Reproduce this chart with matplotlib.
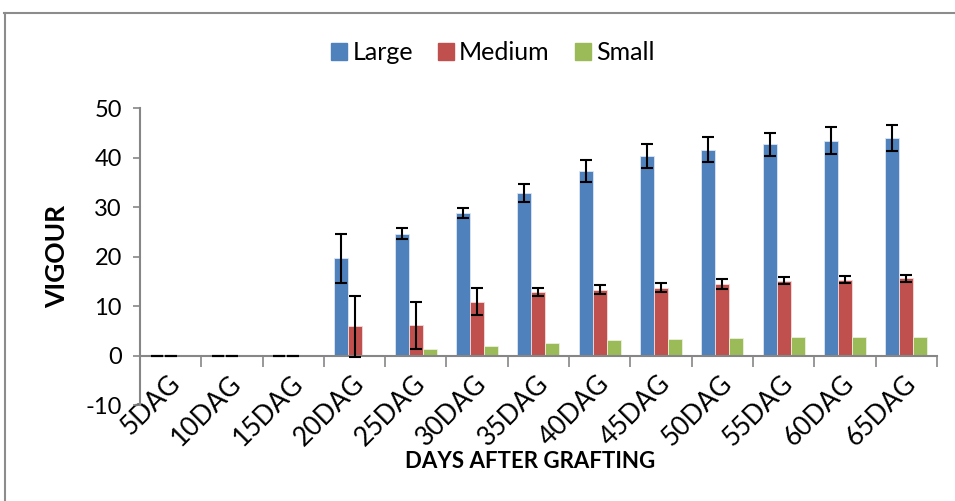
import matplotlib
matplotlib.use("Agg")
import matplotlib.pyplot as plt
import matplotlib.transforms as mtransforms
import numpy as np
from matplotlib.lines import Line2D
from matplotlib.patches import Patch

plt.rcParams["font.family"] = ["Lato", "DejaVu Sans"]
plt.rcParams["axes.unicode_minus"] = False

DAYS = ["5DAG", "10DAG", "15DAG", "20DAG", "25DAG", "30DAG", "35DAG",
        "40DAG", "45DAG", "50DAG", "55DAG", "60DAG", "65DAG"]
LARGE = [0, 0, 0, 19.6, 24.6, 28.8, 32.8, 37.3, 40.3, 41.6, 42.7, 43.4, 43.9]
LARGE_ERR = [0, 0, 0, 5.0, 1.1, 1.0, 1.85, 2.15, 2.5, 2.5, 2.3, 2.7, 2.6]
MEDIUM = [0, 0, 0, 5.9, 6.1, 10.9, 12.8, 13.3, 13.7, 14.4, 15.1, 15.3, 15.6]
MEDIUM_ERR = [0, 0, 0, 6.2, 4.8, 2.7, 0.8, 0.9, 0.9, 1.05, 0.75, 0.75, 0.65]
SMALL = [0, 0, 0, 0, 1.3, 1.9, 2.5, 3.2, 3.4, 3.5, 3.7, 3.8, 3.8]

C_LARGE = "#4F81BD"
C_MED = "#C0504D"
C_SMALL = "#9BBB59"
AX_GRAY = "#868686"

fig = plt.figure(figsize=(9.55, 5.01), dpi=100)
ax = fig.add_axes([0.1466, 0.1916, 0.8344, 0.5928])

x = np.arange(len(DAYS))
w = 0.228
ax.bar(x - w, LARGE, w, color=C_LARGE, edgecolor="#DCE6F2", lw=0.6, zorder=2)
ax.bar(x, MEDIUM, w, color=C_MED, edgecolor="#F2DCDB", lw=0.6, zorder=2)
ax.bar(x + w, SMALL, w, color=C_SMALL, edgecolor="#EBF1DE", lw=0.6, zorder=2)

ekw = dict(fmt="none", ecolor="black", elinewidth=1.5, capsize=4.5, capthick=1.5, zorder=4)
ax.errorbar(x - w, LARGE, yerr=LARGE_ERR, **ekw)
ax.errorbar(x, MEDIUM, yerr=MEDIUM_ERR, **ekw)

ax.set_xlim(-0.5, len(DAYS) - 0.5)
ax.set_ylim(-10, 50)
ax.set_yticks(range(-10, 51, 10))
ax.tick_params(axis="y", length=5, width=1.2, color=AX_GRAY, labelsize=17, pad=8)

# category axis sits at y = 0, labels stay low
ax.spines["bottom"].set_position(("data", 0))
for s in ("top", "right"):
    ax.spines[s].set_visible(False)
for s in ("left", "bottom"):
    ax.spines[s].set_color(AX_GRAY)
    ax.spines[s].set_linewidth(1.5)
ax.set_xticks(np.arange(-0.5, len(DAYS), 1.0))
ax.set_xticklabels([])
ax.tick_params(axis="x", which="major", length=8, width=1.2, color=AX_GRAY)
ax.set_xticks(x, minor=True)
ax.set_xticklabels(DAYS, minor=True, rotation=45, ha="right", va="top",
                   rotation_mode="anchor", fontsize=19)
ax.tick_params(axis="x", which="minor", length=0, pad=11)
shift = mtransforms.ScaledTranslation(-3 / 100, 0, fig.dpi_scale_trans)
for lbl in ax.get_xticklabels(minor=True):
    lbl.set_transform(lbl.get_transform() + shift)

ax.set_ylabel("VIGOUR", fontsize=19, fontweight="bold", labelpad=12)
fig.text(0.555, 0.078, "DAYS AFTER GRAFTING", ha="center", va="center",
         fontsize=16, fontweight="bold")

handles = [Patch(color=C_LARGE), Patch(color=C_MED), Patch(color=C_SMALL)]
fig.legend(handles, ["Large", "Medium", "Small"], loc="center",
           bbox_to_anchor=(0.516, 0.895), ncol=3, frameon=False, fontsize=18,
           handlelength=0.65, handleheight=0.65, handletextpad=0.2, columnspacing=1.0)

# outer chart frame (top and left edges visible)
fig.add_artist(Line2D([0.004, 1.0], [0.974, 0.974], transform=fig.transFigure,
                      color="#8C8C8C", lw=1.5))
fig.add_artist(Line2D([0.005, 0.005], [0.0, 0.974], transform=fig.transFigure,
                      color="#8C8C8C", lw=1.5))

fig.savefig("out.png", dpi=100)
